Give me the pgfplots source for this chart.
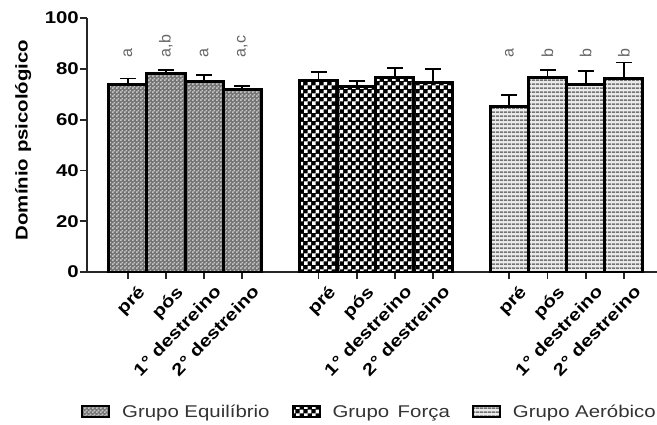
\documentclass[border=0pt]{standalone}
\usepackage{fontspec}
\setmainfont{Liberation Sans}[FakeStretch=1.2]
\newfontfamily\plainsans{Liberation Sans}
\usepackage{pgfplots}
\usepackage{pgfplotstable}
\pgfplotsset{compat=1.18}
\usetikzlibrary{patterns}

\pgfdeclarepatternformonly{finecheck}{\pgfpointorigin}{\pgfpoint{4pt}{4pt}}{\pgfpoint{4pt}{4pt}}{%
 \pgfpathrectangle{\pgfpointorigin}{\pgfpoint{2pt}{2pt}}%
 \pgfpathrectangle{\pgfpoint{2pt}{2pt}}{\pgfpoint{2pt}{2pt}}%
 \pgfusepath{fill}}
\pgfdeclarepatternformonly{bigcheck}{\pgfpointorigin}{\pgfpoint{8pt}{8pt}}{\pgfpoint{8pt}{8pt}}{%
 \pgfpathrectangle{\pgfpointorigin}{\pgfpoint{4pt}{4pt}}%
 \pgfpathrectangle{\pgfpoint{4pt}{4pt}}{\pgfpoint{4pt}{4pt}}%
 \pgfusepath{fill}}
\pgfdeclarepatternformonly{hstripes}{\pgfpointorigin}{\pgfpoint{4pt}{4pt}}{\pgfpoint{4pt}{4pt}}{%
 \pgfpathrectangle{\pgfpointorigin}{\pgfpoint{4pt}{2pt}}%
 \pgfusepath{fill}}

\pgfplotstableread{
x y e
0 74.0 2.2
1 78.0 1.5
2 74.9 2.7
3 71.7 1.4
}\equil
\pgfplotstableread{
x y e
5 75.3 3.3
6 73.1 2.1
7 76.6 3.7
8 74.7 5.1
}\forca
\pgfplotstableread{
x y e
10 65.2 4.6
11 76.6 3.0
12 74.0 5.1
13 76.0 6.5
}\aerob

\newcommand{\fs}{\fontsize{17}{20}\selectfont}

\begin{document}
\begin{tikzpicture}
\path[use as bounding box] (0,0) rectangle (657pt,424pt);
\begin{axis}[
  at={(87pt,152pt)}, anchor=south west,
  scale only axis, width=570pt, height=254pt,
  xmin=-1.07, xmax=13.87, ymin=0, ymax=100,
  axis x line=bottom, axis y line=left,
  axis line style={-, line width=1.8pt, black!85},
  ytick={0,20,40,60,80,100},
  xtick={0,1,2,3,5,6,7,8,10,11,12,13},
  xticklabels={pré,pós,1° destreino,2° destreino,pré,pós,1° destreino,2° destreino,pré,pós,1° destreino,2° destreino},
  tick align=outside, major tick length=7pt,
  tick style={line width=1.8pt, black!85},
  /pgf/number format/assume math mode=true,
  yticklabel style={font=\fs\bfseries, inner sep=1pt},
  xticklabel style={font=\fs\bfseries, inner sep=0pt, xshift=9pt, yshift=-5pt, rotate=46, anchor=north east},
  ylabel={Domínio psicológico},
  ylabel style={font=\fs\bfseries, at={(axis description cs:-0.112,0.52)}, anchor=center},
  ybar, bar width=1,
  legend columns=3,
  legend style={at={(axis description cs:-0.0106,-0.551)}, anchor=west, draw=none, fill=none,
    font=\fs\color{black!80}, inner sep=0pt,
    /tikz/every odd column/.append style={column sep=10pt},
    /tikz/every even column/.append style={column sep=20pt}},
  mylegend/.style={legend image code/.code={\draw[##1, line width=2pt] (0pt,-5.5pt) rectangle (27pt,5.5pt);}},
  errstyle/.style={error bars/.cd, y dir=plus, y explicit,
    error mark=-,
    error bar style={line width=1.8pt, black},
    error mark options={rotate=90, line width=1.8pt, mark size=8pt, black}},
]
\addplot[bar shift=0pt, draw=black, line width=3pt, fill=black!55,
  postaction={pattern=finecheck, pattern color=black!22}, mylegend, errstyle]
  table[x=x, y=y, y error=e] {\equil};
\addlegendentry{Grupo Equilíbrio}
\addplot[bar shift=0pt, draw=black, line width=3pt, fill=black,
  postaction={pattern=bigcheck, pattern color=white}, mylegend, errstyle]
  table[x=x, y=y, y error=e] {\forca};
\addlegendentry{Grupo\hspace{0.5em}Força}
\addplot[bar shift=0pt, draw=black, line width=3pt, fill=black!8,
  postaction={pattern=hstripes, pattern color=black!55}, mylegend, errstyle]
  table[x=x, y=y, y error=e] {\aerob};
\addlegendentry{Grupo Aeróbico}

\tikzset{lt/.style={font=\plainsans\fontsize{16}{18}\selectfont, text=black!60, rotate=90, anchor=west, inner sep=0pt}}
\node[lt] at (axis cs:0,84.5) {a};
\node[lt] at (axis cs:1,84.5) {a,b};
\node[lt] at (axis cs:2,84.5) {a};
\node[lt] at (axis cs:3,84.5) {a,c};
\node[lt] at (axis cs:10,84.5) {a};
\node[lt] at (axis cs:11,84.5) {b};
\node[lt] at (axis cs:12,84.5) {b};
\node[lt] at (axis cs:13,84.5) {b};
\end{axis}
\end{tikzpicture}
\end{document}
